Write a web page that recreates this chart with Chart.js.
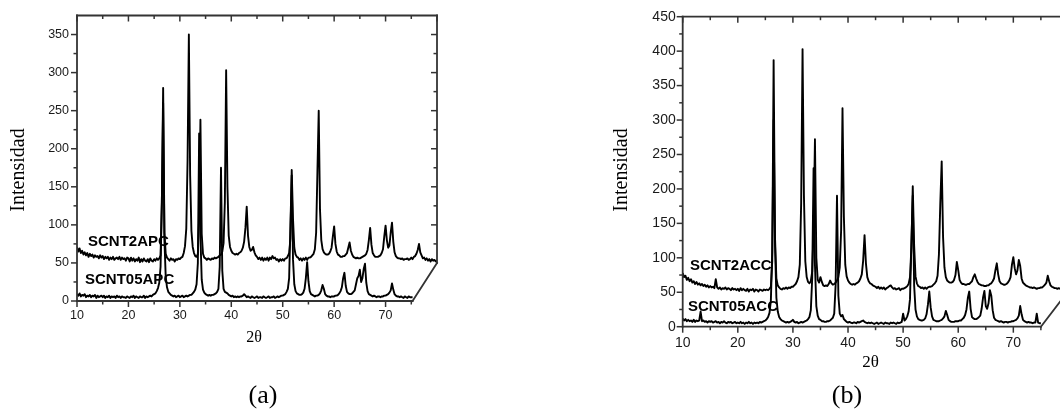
<!DOCTYPE html>
<html>
<head>
<meta charset="utf-8">
<script src="https://cdn.jsdelivr.net/npm/chart.js@4.4.1/dist/chart.umd.min.js"></script>
<style>
html,body{margin:0;padding:0;background:#fff;}
#wrap{position:relative;width:1060px;height:414px;overflow:hidden;background:#fff;}
.panel{position:absolute;top:0;height:414px;}
canvas{display:block;}
</style>
</head>
<body>
<div id="wrap">
  <div class="panel" style="left:0;width:530px"><canvas id="ca" width="530" height="414"></canvas></div>
  <div class="panel" style="left:530px;width:530px"><canvas id="cb" width="530" height="414"></canvas></div>
</div>
<script>
// 2θ sampling of every trace: first angle and step (degrees)
const thetaStart = 10;
const thetaStep = 0.25;

// Tick labels
const xTickLabels = [10, 20, 30, 40, 50, 60, 70];
const yTickLabelsA = [0, 50, 100, 150, 200, 250, 300, 350];
const yTickLabelsB = [0, 50, 100, 150, 200, 250, 300, 350, 400, 450];

// Series names
const seriesA = ["SCNT2APC", "SCNT05APC"];
const seriesB = ["SCNT2ACC", "SCNT05ACC"];

// (a) SCNT2APC – back trace (plotted with its offset), 10° .. 80.25°
const aBack = [
  71,65,69,63,66,61,64,60,63,58,62,59,61,57,60,58,59,56,60,57,
  59,55,58,56,58,54,57,55,58,54,56,57,55,58,54,57,55,56,53,57,
  56,52,57,53,56,52,55,53,57,51,55,52,56,53,52,55,51,56,53,52,
  55,53,56,54,56,60,130,280,90,62,57,55,53,56,54,55,52,55,54,56,
  55,57,58,63,72,95,185,350,165,92,71,63,59,58,62,110,238,88,62,57,
  56,54,56,55,54,56,55,57,56,57,58,60,61,65,76,130,303,150,86,71,
  66,63,62,61,62,61,63,64,66,70,78,96,124,86,71,66,67,71,64,60,
  58,55,57,54,57,53,56,54,57,53,57,55,59,56,57,54,55,52,55,53,
  55,53,56,56,59,63,82,172,108,70,61,58,57,54,56,53,56,54,57,54,
  57,57,58,60,62,68,90,170,250,120,80,68,64,62,61,61,62,65,70,85,
  98,75,65,61,60,58,58,59,59,61,63,70,77,66,61,58,57,56,57,56,
  56,57,58,59,60,62,67,80,96,74,63,60,58,58,58,59,60,63,68,85,
  99,80,70,73,90,103,78,64,59,57,56,56,55,56,54,55,55,56,54,55,
  57,55,58,59,62,67,75,64,60,56,57,54,56,53,55,52,55,53,54,52,
  53,53
];

// (a) SCNT05APC – front trace, 10° .. 75.25°
const aFront = [
  9,7,10,6,8,7,9,5,7,6,8,5,7,6,8,4,7,5,6,7,
  5,7,4,6,5,7,4,6,5,6,4,7,5,6,4,6,5,5,4,6,
  5,4,6,5,7,4,6,5,4,6,5,5,7,4,6,5,6,7,6,8,
  9,10,13,17,24,45,130,260,80,32,18,12,10,8,7,6,7,5,6,7,
  5,6,7,5,6,7,6,7,8,8,10,12,15,22,50,220,85,28,15,11,
  9,8,7,8,7,8,8,9,10,12,16,45,175,40,16,12,11,10,8,7,
  6,7,5,6,5,6,5,6,6,7,9,7,5,6,5,4,6,5,4,5,
  6,4,5,5,4,6,5,4,5,6,4,5,5,6,4,5,6,5,6,7,
  7,8,9,12,16,30,100,165,55,22,13,10,9,8,8,9,11,16,30,51,
  26,13,9,8,7,6,7,7,8,10,14,21,16,9,7,6,6,5,6,6,
  6,7,7,8,10,13,18,30,37,20,12,10,9,9,10,12,14,22,30,33,
  41,25,30,42,49,24,13,9,8,7,6,7,6,5,6,6,5,6,6,7,
  7,8,9,11,14,23,15,9,7,6,6,5,6,5,4,6,5,4,6,5,
  5,5
];

// (b) SCNT2ACC – back trace (plotted with its offset), 10° .. 80°
const bBack = [
  78,72,74,68,71,66,69,64,66,62,65,61,63,60,62,59,61,58,60,57,
  59,57,58,56,69,57,55,57,54,56,55,57,54,56,55,53,56,54,55,53,
  55,52,56,53,55,53,52,55,51,54,53,55,51,54,53,51,54,53,52,54,
  53,54,53,55,58,95,387,130,70,60,57,55,54,56,55,57,55,57,56,58,
  58,60,62,66,72,90,180,403,190,95,72,65,63,66,80,140,272,100,68,64,
  72,65,60,59,60,59,62,67,63,61,62,64,67,72,86,140,317,160,90,73,
  67,64,62,61,62,61,63,64,66,70,76,96,133,92,72,66,63,62,60,59,
  58,56,58,55,57,55,57,54,56,57,59,60,57,55,56,54,55,56,53,55,
  55,56,57,59,62,72,115,204,118,73,63,59,58,56,57,55,57,55,57,58,
  58,59,61,63,66,74,105,180,240,130,86,72,67,65,64,64,65,68,75,94,
  82,68,64,62,62,61,61,62,62,64,66,72,76,70,65,62,61,60,60,59,
  59,60,60,62,63,66,70,82,92,76,66,63,62,61,61,62,64,67,72,90,
  101,85,76,82,97,88,70,64,62,60,59,58,57,57,56,57,56,55,56,56,
  57,57,59,61,64,74,66,60,58,57,56,56,55,56,55,55,54,55,54,55,
  55
];

// (b) SCNT05ACC – front trace, 10° .. 75°
const bFront = [
  12,9,11,8,10,8,9,7,10,7,9,8,9,22,8,9,7,8,6,8,
  7,8,6,7,8,6,7,5,7,6,8,6,5,7,6,7,5,6,7,5,
  6,5,7,5,6,4,6,5,7,5,6,4,6,5,6,5,7,6,7,8,
  9,11,14,20,38,110,300,120,42,22,14,11,9,8,7,6,7,6,7,8,
  10,7,6,7,5,6,7,6,7,8,9,11,14,24,70,230,90,30,16,11,
  10,8,8,7,7,8,8,9,11,13,19,60,190,45,19,15,17,11,9,7,
  6,7,6,5,6,6,5,7,6,7,8,9,7,6,5,6,5,6,5,4,
  5,6,4,5,6,5,4,6,5,5,4,6,5,6,5,4,6,5,6,7,
  19,9,11,15,22,40,120,190,60,25,15,11,10,9,9,10,12,18,32,51,
  28,15,10,9,8,8,8,9,10,12,15,23,17,10,8,7,7,7,8,8,
  8,9,9,11,13,17,25,42,51,26,14,12,11,11,12,14,16,26,42,52,
  30,26,34,53,45,24,13,10,9,8,7,8,7,6,7,7,6,7,7,8,
  8,9,10,12,16,30,18,10,8,7,6,7,6,6,5,6,6,19,6,5,
  5
];

function toXY(vals) {
  return vals.map((v, i) => ({ x: thetaStart + i * thetaStep, y: v }));
}

// Draws the pseudo-3D frame (axes, back plane edges, ticks) through the chart's scales
const frame3d = {
  id: 'frame3d',
  afterDatasetsDraw(chart, args, o) {
    const ctx = chart.ctx;
    const xs = chart.scales.x, ys = chart.scales.y;
    const X = v => xs.getPixelForValue(v);
    const Y = v => ys.getPixelForValue(v);
    const line = (x1, y1, x2, y2) => { ctx.beginPath(); ctx.moveTo(x1, y1); ctx.lineTo(x2, y2); ctx.stroke(); };
    const isMajor = (v, m) => Math.abs(v / m - Math.round(v / m)) < 1e-6;
    ctx.save();
    ctx.strokeStyle = o.color;
    ctx.lineWidth = o.width;
    ctx.lineCap = 'square';
    const x0 = X(o.xStart), yb = Y(0), yt = Y(o.yTop);
    const xf = X(o.frontEnd), xr = X(o.backEnd), yBack = Y(o.backBase);
    line(x0, yb, x0, yt);
    line(x0, yb, xf, yb);
    line(x0, yt, xr, yt);
    line(xr, yBack, xr, yt);
    line(xf, yb, xr, yBack);
    ctx.lineWidth = o.tickWidth;
    ctx.lineCap = 'butt';
    for (let v = o.xStart; v <= o.frontEnd + 1e-6; v += o.xMinor) {
      const L = isMajor(v, o.xMajor) ? o.majorLen : o.minorLen;
      line(X(v), yb, X(v), yb + L);
    }
    for (let v = o.xStart; v <= o.backEnd + 1e-6; v += o.xMinor) {
      const L = isMajor(v, o.xMajor) ? o.majorLen : o.minorLen;
      line(X(v), yt, X(v), yt + L);
    }
    for (let v = 0; v <= o.yTickMax + 1e-6; v += o.yMinor) {
      const L = isMajor(v, o.yMajor) ? o.majorLen : o.minorLen;
      line(x0, Y(v), x0 - L, Y(v));
    }
    for (let v = o.backBase + o.yMinor; v <= o.yTickMax + 1e-6; v += o.yMinor) {
      const L = isMajor(v, o.yMajor) ? o.majorLen : o.minorLen;
      line(xr, Y(v), xr - L, Y(v));
    }
    ctx.restore();
  }
};

// Series names (placed in data coordinates) and axis / panel captions
const notes = {
  id: 'notes',
  afterDraw(chart, args, o) {
    const ctx = chart.ctx;
    const xs = chart.scales.x, ys = chart.scales.y;
    ctx.save();
    ctx.fillStyle = '#000';
    for (const s of o.series) {
      ctx.font = o.seriesFont;
      ctx.textAlign = 'left';
      ctx.textBaseline = 'middle';
      ctx.fillText(s.text, xs.getPixelForValue(s.x), ys.getPixelForValue(s.y));
    }
    for (const t of o.texts) {
      ctx.save();
      ctx.font = t.font;
      ctx.textAlign = 'center';
      ctx.textBaseline = t.baseline || 'middle';
      ctx.translate(t.px, t.py);
      if (t.rot) ctx.rotate(t.rot);
      ctx.fillText(t.text, 0, 0);
      ctx.restore();
    }
    ctx.restore();
  }
};

const SANS = '"Liberation Sans", Arial, sans-serif';
const SERIF = '"Liberation Serif", "Times New Roman", serif';

function makePanel(id, p) {
  const ds = (name, vals) => ({
    label: name, data: toXY(vals), borderColor: '#000', borderWidth: 1.9,
    pointRadius: 0, tension: 0, fill: false, borderJoinStyle: 'round'
  });
  return new Chart(document.getElementById(id), {
    type: 'line',
    data: { datasets: [ds(p.names[0], p.back), ds(p.names[1], p.front)] },
    options: {
      responsive: false, maintainAspectRatio: false, animation: false, devicePixelRatio: 1,
      events: [],
      layout: { padding: { left: 0, right: p.padRight, top: p.padTop, bottom: 0 } },
      plugins: {
        legend: { display: false }, tooltip: { enabled: false }, title: { display: false },
        frame3d: {
          color: '#333', width: 1.8, tickWidth: 1.5, majorLen: 6, minorLen: 3.5,
          xStart: 10, frontEnd: p.frontEnd, backEnd: p.backEnd, backBase: 50,
          yTop: p.yMax, yTickMax: p.yTickMax, xMinor: 5, xMajor: 10, yMinor: 25, yMajor: 50
        },
        notes: { seriesFont: 'bold 15px ' + SANS, series: p.seriesLabels, texts: p.texts }
      },
      scales: {
        x: {
          type: 'linear', min: 10, max: p.xMax,
          grid: { display: false, drawTicks: false }, border: { display: false },
          afterBuildTicks: s => { s.ticks = xTickLabels.map(v => ({ value: v })); },
          afterFit: s => { s.height = p.xAxisH; },
          ticks: { padding: p.xPad, color: '#1a1a1a', font: { family: SANS, size: p.tickSize }, maxRotation: 0, autoSkip: false }
        },
        y: {
          type: 'linear', min: 0, max: p.yMax,
          grid: { display: false, drawTicks: false }, border: { display: false },
          afterBuildTicks: s => { s.ticks = p.yTicks.map(v => ({ value: v })); },
          afterFit: s => { s.width = p.yAxisW; },
          ticks: { padding: p.yPad, color: '#1a1a1a', font: { family: SANS, size: p.tickSize }, autoSkip: false }
        }
      }
    },
    plugins: [frame3d, notes]
  });
}

makePanel('ca', {
  names: seriesA, back: aBack, front: aFront,
  xMax: 80, yMax: 375, yTicks: yTickLabelsA, yTickMax: 350,
  frontEnd: 75.25, backEnd: 80,
  padTop: 11.7, padRight: 93, xAxisH: 113, yAxisW: 77,
  tickSize: 12.5, xPad: 7.5, yPad: 8,
  seriesLabels: [
    { text: seriesA[0], x: 12.14, y: 77.9 },
    { text: seriesA[1], x: 11.56, y: 27.3 }
  ],
  texts: [
    { text: 'Intensidad', px: 19, py: 170, rot: -Math.PI / 2, font: '20px ' + SERIF },
    { text: '2θ', px: 254, py: 338, font: '16px ' + SERIF },
    { text: '(a)', px: 263, py: 403, font: '26px ' + SERIF, baseline: 'alphabetic' }
  ]
});

makePanel('cb', {
  names: seriesB, back: bBack, front: bFront,
  xMax: 78.47, yMax: 450, yTicks: yTickLabelsB, yTickMax: 450,
  frontEnd: 75, backEnd: 79.8,
  padTop: 16.7, padRight: 0, xAxisH: 87.3, yAxisW: 152.7,
  tickSize: 14, xPad: 8, yPad: 7,
  seriesLabels: [
    { text: seriesB[0], x: 11.32, y: 88.8 },
    { text: seriesB[1], x: 10.96, y: 28.6 }
  ],
  texts: [
    { text: 'Intensidad', px: 92, py: 170, rot: -Math.PI / 2, font: '20px ' + SERIF },
    { text: '2θ', px: 340.5, py: 363, font: '17px ' + SERIF },
    { text: '(b)', px: 317, py: 403, font: '26px ' + SERIF, baseline: 'alphabetic' }
  ]
});
</script>
</body>
</html>
